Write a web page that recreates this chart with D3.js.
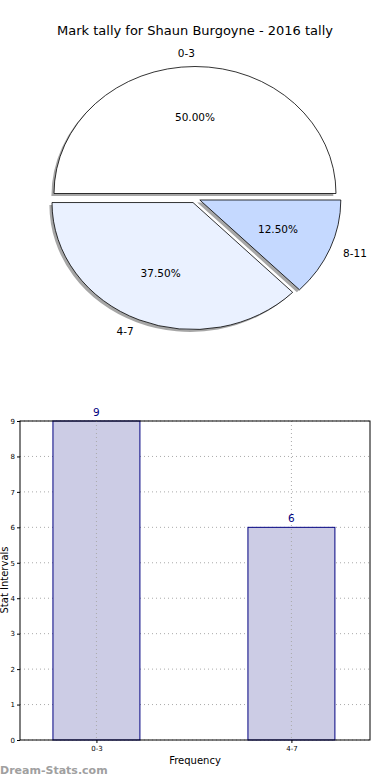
<!DOCTYPE html>
<html>
<head>
<meta charset="utf-8">
<script src="https://cdn.jsdelivr.net/npm/d3@7"></script>
<style>
  body { margin: 0; background: #fff; }
  svg { display: block; font-family: "DejaVu Sans", sans-serif; }
</style>
</head>
<body>
<div id="chart"></div>
<script>
// pie data
const pieLabels = ["0-3", "4-7", "8-11"];
const pieValues = [4, 3, 1];
const pieColors = ["#ffffff", "#eaf1ff", "#c5d9ff"];

// bar data
const barLabels = ["0-3", "4-7"];
const barValues = [9, 6];
const yTicks = [0, 1, 2, 3, 4, 5, 6, 7, 8, 9];

function drawChart() {
  const w = 390, h = 780;

  const svg = d3.select("#chart").append("svg")
    .attr("width", w).attr("height", h);

  svg.append("text")
    .attr("x", 195).attr("y", 35)
    .attr("text-anchor", "middle")
    .attr("font-size", "13px")
    .text("Mark tally for Shaun Burgoyne - 2016 tally");

  // ---- pie (elliptical, like matplotlib with non-equal aspect)
  const cx = 195, cy = 198.2, rx = 141, ry = 127;
  const explode = 0.037;

  // matplotlib: counterclockwise from 3 o'clock -> d3 angles start at PI/2 going negative
  const pie = d3.pie().sort(null)
    .startAngle(Math.PI / 2)
    .endAngle(Math.PI / 2 - 2 * Math.PI);
  const arcs = pie(pieValues);
  const arc = d3.arc().innerRadius(0).outerRadius(1);
  const total = d3.sum(pieValues);

  const pieG = svg.append("g");

  arcs.forEach((a, i) => {
    const mid = (a.startAngle + a.endAngle) / 2; // d3 angle
    const dx = Math.sin(mid), dy = -Math.cos(mid);
    const ox = cx + dx * explode * rx;
    const oy = cy + dy * explode * ry;

    // shadow
    pieG.append("path")
      .attr("d", arc(a))
      .attr("transform", `translate(${ox - 2.6},${oy + 2.4}) scale(${rx},${ry})`)
      .attr("fill", "#4d4d4d")
      .attr("fill-opacity", 0.5);

    pieG.append("path")
      .attr("d", arc(a))
      .attr("transform", `translate(${ox},${oy}) scale(${rx},${ry})`)
      .attr("fill", pieColors[i])
      .attr("stroke", "#000")
      .attr("stroke-width", 0.8)
      .attr("vector-effect", "non-scaling-stroke");

    // outer label
    pieG.append("text")
      .attr("x", ox + 1.1 * rx * dx).attr("y", oy + 1.1 * ry * dy)
      .attr("dy", "0.35em")
      .attr("text-anchor", dx > 0 ? "start" : "end")
      .attr("font-size", "10.5px")
      .text(pieLabels[i]);

    // pct label
    pieG.append("text")
      .attr("x", ox + 0.6 * rx * dx).attr("y", oy + 0.6 * ry * dy)
      .attr("dy", "0.35em")
      .attr("text-anchor", "middle")
      .attr("font-size", "10.5px")
      .text((pieValues[i] / total * 100).toFixed(2) + "%");
  });

  // ---- bar chart
  const m = { left: 20, right: 370, top: 421, bottom: 740 };

  const x = d3.scaleLinear().domain([-0.392, 1.403]).range([m.left, m.right]);
  const y = d3.scaleLinear().domain([0, 9]).range([m.bottom, m.top]);
  const barW = 0.446;

  const barG = svg.append("g");

  // grid
  barG.selectAll(".hgrid").data(yTicks).enter().append("line")
    .attr("x1", m.left).attr("x2", m.right)
    .attr("y1", (d) => y(d)).attr("y2", (d) => y(d))
    .attr("stroke", "#aaa").attr("stroke-width", 1)
    .attr("stroke-dasharray", "1,3");

  barG.selectAll(".bar").data(barValues).enter().append("rect")
    .attr("x", (d, i) => x(i - barW / 2))
    .attr("y", (d) => y(d))
    .attr("width", x(barW) - x(0))
    .attr("height", (d) => m.bottom - y(d))
    .attr("fill", "#cccce5")
    .attr("stroke", "#000080")
    .attr("stroke-width", 1);

  barG.selectAll(".vgrid").data(barLabels).enter().append("line")
    .attr("x1", (d, i) => x(i)).attr("x2", (d, i) => x(i))
    .attr("y1", m.top).attr("y2", m.bottom)
    .attr("stroke", "#aaa").attr("stroke-width", 1)
    .attr("stroke-dasharray", "1,3");

  barG.selectAll(".val").data(barValues).enter().append("text")
    .attr("x", (d, i) => x(i))
    .attr("y", (d) => y(d) - 5)
    .attr("text-anchor", "middle")
    .attr("font-size", "10.5px")
    .attr("fill", "#000080")
    .text((d) => d);

  // axes
  const yAxis = d3.axisLeft(y).tickValues(yTicks).tickSize(3).tickPadding(2);
  const yg = barG.append("g").attr("transform", `translate(${m.left},0)`).call(yAxis);
  yg.select(".domain").remove();
  yg.selectAll("text").attr("font-size", "7px").attr("font-family", "DejaVu Sans");

  const xAxis = d3.axisBottom(x).tickValues([0, 1])
    .tickFormat((d) => barLabels[d]).tickSize(3).tickPadding(3);
  const xg = barG.append("g").attr("transform", `translate(0,${m.bottom})`).call(xAxis);
  xg.select(".domain").remove();
  xg.selectAll("text").attr("font-size", "7px").attr("font-family", "DejaVu Sans");

  barG.append("rect")
    .attr("x", m.left).attr("y", m.top)
    .attr("width", m.right - m.left).attr("height", m.bottom - m.top)
    .attr("fill", "none").attr("stroke", "#000").attr("stroke-width", 1);

  svg.append("text")
    .attr("x", 195).attr("y", 764)
    .attr("text-anchor", "middle")
    .attr("font-size", "10px")
    .text("Frequency");

  svg.append("text")
    .attr("transform", "translate(8,580) rotate(-90)")
    .attr("text-anchor", "middle")
    .attr("font-size", "10px")
    .text("Stat Intervals");

  svg.append("text")
    .attr("x", 0).attr("y", 774)
    .attr("font-size", "11px")
    .attr("font-weight", "bold")
    .attr("fill", "#a0a0a0")
    .text("Dream-Stats.com");
}

drawChart();
</script>
</body>
</html>
